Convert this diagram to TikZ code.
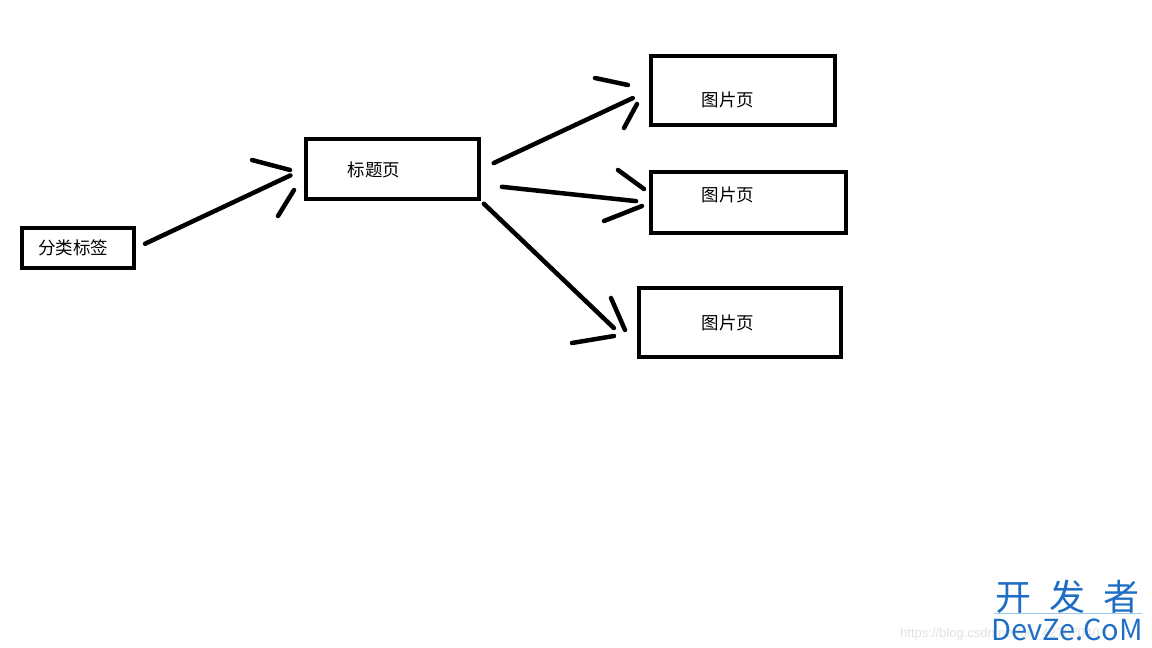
\documentclass[tikz,border=0pt]{standalone}
\usepackage{fontspec}
\newfontfamily\cjk{Noto Sans CJK SC}
\newfontfamily\urlfont{Liberation Sans}
\usetikzlibrary{positioning, calc}
\definecolor{devblue}{HTML}{1F6EC3}
\definecolor{devline}{HTML}{9CCBEF}
\definecolor{urlgray}{HTML}{E2E2E2}

\begin{document}
\begin{tikzpicture}[
  x=1pt, y=-1pt,
  box/.style={draw=black, line width=4pt, inner sep=0pt},
  txt/.style={font=\cjk\fontsize{17.5}{20}\selectfont, inner sep=0pt},
  pen/.style={line width=4.5pt, line cap=round, black}
]
\path[fill=white, use as bounding box] (0,0) rectangle (1152,648);

% boxes
\node[box, minimum width=112pt, minimum height=40pt] (tag) at (78,248) {};
\node[box, minimum width=173pt, minimum height=60pt] (title) at (392.5,169) {};
\node[box, minimum width=184pt, minimum height=69pt] (pic1) at (743,90.5) {};
\node[box, minimum width=195pt, minimum height=61pt] (pic2) at (748.5,202.5) {};
\node[box, minimum width=202pt, minimum height=69pt] (pic3) at (740,322.5) {};

% texts
\node[txt] (tagtext) at (73,248) {分类标签};
\node[txt] (titletext) at (374,170) {标题页};
\node[txt] (pic1text) at (728,100) {图片页};
\node[txt] (pic2text) at (728,195) {图片页};
\node[txt] (pic3text) at (728,323) {图片页};

% strokes
\draw[pen, shorten <=10pt, shorten >=15pt] (tag.east) -- (title.west);
\draw[pen, shorten <=14pt, shorten >=18pt] (title.east) -- (pic1.west);
\draw[pen, shorten <=21pt, shorten >=13pt] (title.-10) -- (pic2.west);
\draw[pen, shorten <=4pt, shorten >=32pt] (title.south east) -- (pic3.195);

% hand drawn barbs
\draw[pen] (252,160) -- (290,170);
\draw[pen] (278,216) -- (294,190);
\draw[pen] (595,78) -- (628,85);
\draw[pen] (624,128) -- (637,104);
\draw[pen] (618,170) -- (644,189);
\draw[pen] (604,221) -- (642,206);
\draw[pen] (611,298) -- (625,330);
\draw[pen] (572,343) -- (614,336);

% watermark
\node[font=\urlfont\fontsize{13}{15}\selectfont, text=urlgray, anchor=base west, inner sep=0pt]
  (url) at (900,637) {https://blog.csdn.net/qq\_42707040};
\node[font=\cjk\fontsize{36}{40}\selectfont, text=devblue, inner sep=0pt]
  (devcn) at (1067,597) {开\hspace{18pt}发\hspace{18pt}者};
\node[font=\cjk\fontsize{29}{32}\selectfont, text=devblue, inner sep=0pt, below=5pt of devcn]
  (deven) {DevZe.CoM};
\draw[devline, line width=1pt] ($(devcn.south west)+(-1,0)$) -- ($(devcn.south east)+(3,0)$);
\end{tikzpicture}
\end{document}
